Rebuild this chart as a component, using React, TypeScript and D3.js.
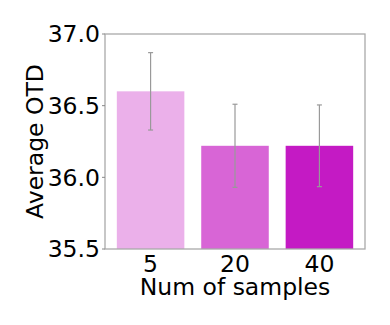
import React from "react";
import * as d3 from "d3";

const categories = ["5", "20", "40"];
const values = [36.6, 36.22, 36.22];
const errors = [0.27, 0.29, 0.285];
const colors = ["#EBB0EA", "#D865D6", "#C41AC4"];
const yTicks = [35.5, 36.0, 36.5, 37.0];

export default function App() {
  const W = 390, H = 325;
  const left = 105, right = 365, top = 34, bottom = 249;
  const y = d3.scaleLinear().domain([35.5, 37.0]).range([bottom, top]);
  const x = d3.scaleLinear().domain([-0.54, 2.54]).range([left, right]);
  const bw = 0.8 * (x(1) - x(0));
  const font = "DejaVu Sans, sans-serif";
  const fs = 23.5;
  return (
    <svg width={W} height={H} style={{ position: "absolute", left: 0, top: 0 }}>
      <rect width={W} height={H} fill="#fff" />
      {values.map((v, i) => (
        <rect key={i} x={x(i) - bw / 2} y={y(v)} width={bw} height={bottom - y(v)} fill={colors[i]} />
      ))}
      {values.map((v, i) => (
        <g key={"e" + i} stroke="#999" strokeWidth={1.2}>
          <line x1={x(i)} x2={x(i)} y1={y(v + errors[i])} y2={y(v - errors[i])} />
          <line x1={x(i) - 2.5} x2={x(i) + 2.5} y1={y(v + errors[i])} y2={y(v + errors[i])} />
          <line x1={x(i) - 2.5} x2={x(i) + 2.5} y1={y(v - errors[i])} y2={y(v - errors[i])} />
        </g>
      ))}
      <rect x={left} y={top} width={right - left} height={bottom - top} fill="none" stroke="#aaa" strokeWidth={1.3} />
      {yTicks.map((t) => (
        <g key={t}>
          <line x1={left - 3} x2={left} y1={y(t)} y2={y(t)} stroke="#888" />
          <text x={left - 5} y={y(t)} dy="0.36em" textAnchor="end" fontFamily={font} fontSize={fs} fill="#000">
            {t.toFixed(1)}
          </text>
        </g>
      ))}
      {categories.map((c, i) => (
        <text key={c} x={x(i)} y={272} textAnchor="middle" fontFamily={font} fontSize={fs} fill="#000">
          {c}
        </text>
      ))}
      <text x={(left + right) / 2} y={295} textAnchor="middle" fontFamily={font} fontSize={fs} fill="#000">
        Num of samples
      </text>
      <text transform={`translate(43,${(top + bottom) / 2}) rotate(-90)`} textAnchor="middle" fontFamily={font} fontSize={fs} fill="#000">
        Average OTD
      </text>
    </svg>
  );
}
